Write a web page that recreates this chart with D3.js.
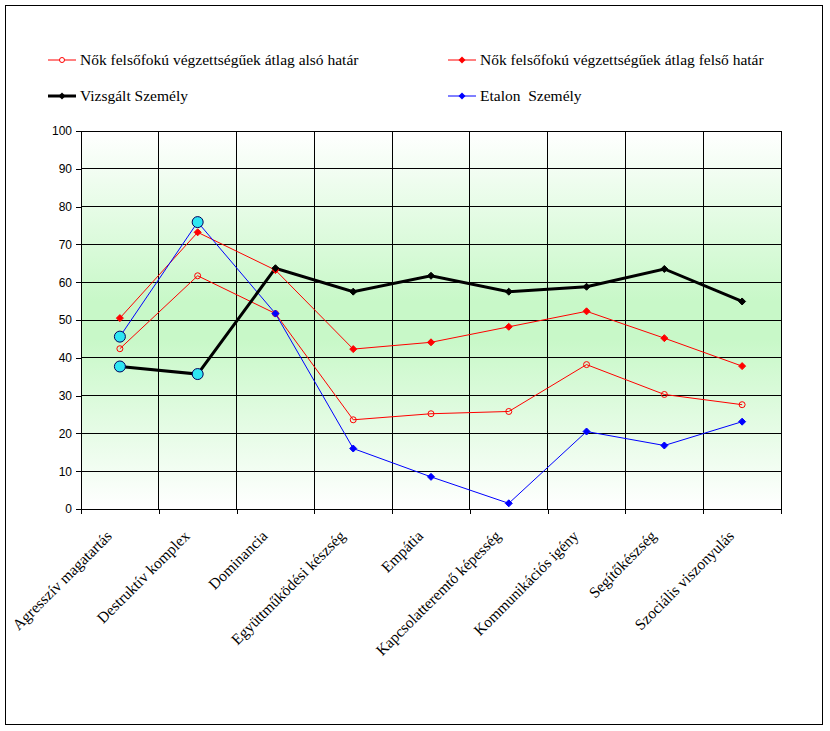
<!DOCTYPE html>
<html><head><meta charset="utf-8">
<script src="https://cdn.jsdelivr.net/npm/d3@7"></script>
<style>body{margin:0;background:#fff}.serif{font-family:"Liberation Serif","Times New Roman",serif}</style>
</head><body>
<svg id="c" width="830" height="731"></svg>
<script>
const categories = ["Agresszív magatartás","Destruktív komplex","Dominancia","Együttműködési készség","Empátia","Kapcsolatteremtő képesség","Kommunikációs igény","Segítőkészség","Szociális viszonyulás"];
const lowerBound = [42.4, 61.7, 51.7, 23.6, 25.2, 25.8, 38.2, 30.3, 27.6];
const upperBound = [50.5, 73.2, 63.2, 42.3, 44.1, 48.2, 52.3, 45.2, 37.8];
const examined = [37.7, 35.7, 63.7, 57.5, 61.7, 57.5, 58.8, 63.5, 54.9];
const etalon = [45.6, 75.9, 51.7, 16.0, 8.5, 1.5, 20.5, 16.8, 23.1];
const highlighted = [0, 1];
const yTicks = [0,10,20,30,40,50,60,70,80,90,100];
const seriesNames = ["Nők felsőfokú végzettségűek átlag alsó határ","Nők felsőfokú végzettségűek átlag felső határ","Vizsgált Személy","Etalon  Személy"];

const svg = d3.select("#c");
const L = 81, R = 781, T = 131, B = 509;
const x = d3.scaleBand().domain(categories).range([L, R]);
const y = d3.scaleLinear().domain([0, 100]).range([B, T]);
const cx = d => x(d) + x.bandwidth() / 2;

// outer frame
svg.append("rect").attr("x", 5.5).attr("y", 5.5).attr("width", 817).attr("height", 719)
  .attr("fill", "#fff").attr("stroke", "#000").attr("stroke-width", 1);

// gradient
const defs = svg.append("defs");
const g = defs.append("linearGradient").attr("id", "bg").attr("x1", 0).attr("y1", 0).attr("x2", 0).attr("y2", 1);
g.append("stop").attr("offset", "0%").attr("stop-color", "#ffffff");
g.append("stop").attr("offset", "45%").attr("stop-color", "#c8f8c8");
g.append("stop").attr("offset", "55%").attr("stop-color", "#c8f8c8");
g.append("stop").attr("offset", "100%").attr("stop-color", "#ffffff");
svg.append("rect").attr("x", L).attr("y", T).attr("width", R - L).attr("height", B - T).attr("fill", "url(#bg)");

// grid
const grid = svg.append("g").attr("stroke", "#000").attr("stroke-width", 1).attr("shape-rendering", "crispEdges");
yTicks.forEach(t => grid.append("line").attr("x1", L).attr("x2", R).attr("y1", y(t)).attr("y2", y(t)));
categories.forEach(c => grid.append("line").attr("x1", x(c)).attr("x2", x(c)).attr("y1", T).attr("y2", B));
grid.append("line").attr("x1", R).attr("x2", R).attr("y1", T).attr("y2", B);

// axes
const yAxis = svg.append("g").attr("transform", `translate(${L},0)`)
  .call(d3.axisLeft(y).tickValues(yTicks).tickSize(5).tickPadding(4));
yAxis.select(".domain").remove();
yAxis.selectAll("line").attr("shape-rendering", "crispEdges");
yAxis.selectAll("text").style("font-family", "'Liberation Sans', Arial, sans-serif").style("font-size", "12px").attr("fill", "#000");

const xAxisScale = d3.scaleLinear().domain([0, categories.length]).range([L, R]);
const xAxis = svg.append("g").attr("transform", `translate(0,${B})`)
  .call(d3.axisBottom(xAxisScale).tickValues(d3.range(categories.length + 1)).tickSize(5).tickFormat(""));
xAxis.select(".domain").remove();
xAxis.selectAll("line").attr("shape-rendering", "crispEdges");

svg.append("g").selectAll("text").data(categories).join("text")
  .attr("class", "serif")
  .attr("transform", d => `translate(${cx(d) - 7},${B + 28}) rotate(-45)`)
  .attr("text-anchor", "end")
  .style("font-size", "15.5px")
  .text(d => d);

// lines
const line = arr => d3.line().x((v, i) => cx(categories[i])).y(v => y(v))(arr);
function diamond(sel, data, r, color) {
  sel.selectAll(null).data(data).join("path")
    .attr("d", (v, i) => { const px = cx(categories[i]), py = y(v); return `M${px},${py - r}L${px + r},${py}L${px},${py + r}L${px - r},${py}Z`; })
    .attr("fill", color).attr("stroke", color);
}
const plot = svg.append("g");
plot.append("path").attr("d", line(lowerBound)).attr("fill", "none").attr("stroke", "#ff0000").attr("stroke-width", 1);
plot.append("path").attr("d", line(upperBound)).attr("fill", "none").attr("stroke", "#ff0000").attr("stroke-width", 1);
plot.append("path").attr("d", line(etalon)).attr("fill", "none").attr("stroke", "#0000ff").attr("stroke-width", 1);
plot.append("path").attr("d", line(examined)).attr("fill", "none").attr("stroke", "#000").attr("stroke-width", 3);

plot.append("g").selectAll("circle").data(lowerBound).join("circle")
  .attr("cx", (v, i) => cx(categories[i])).attr("cy", v => y(v)).attr("r", 3)
  .attr("fill", "none").attr("stroke", "#ff0000");
diamond(plot.append("g"), upperBound, 3.5, "#ff0000");
diamond(plot.append("g"), etalon, 3.5, "#0000ff");
diamond(plot.append("g"), examined, 3.5, "#000");

// highlighted points
const hl = plot.append("g");
highlighted.forEach(i => {
  [examined[i], etalon[i]].forEach(v => {
    hl.append("circle").attr("cx", cx(categories[i])).attr("cy", y(v)).attr("r", 5.5)
      .attr("fill", "#2ee6f2").attr("stroke", "#00005a").attr("stroke-width", 1);
  });
});

// legend
const legend = svg.append("g");
const legPos = [[48, 60], [448, 60], [48, 96], [448, 96]];
const legColor = ["#ff0000", "#ff0000", "#000", "#0000ff"];
const legWidth = [1, 1, 3, 1];
seriesNames.forEach((n, i) => {
  const [lx, ly] = legPos[i];
  const gg = legend.append("g");
  gg.append("line").attr("x1", lx).attr("x2", lx + 28).attr("y1", ly).attr("y2", ly)
    .attr("stroke", legColor[i]).attr("stroke-width", legWidth[i]);
  const mx = lx + 14;
  if (i === 0) gg.append("circle").attr("cx", mx).attr("cy", ly).attr("r", 2.5).attr("fill", "#fff").attr("stroke", "#ff0000");
  else gg.append("path").attr("d", `M${mx},${ly - 3.5}L${mx + 3.5},${ly}L${mx},${ly + 3.5}L${mx - 3.5},${ly}Z`).attr("fill", legColor[i]);
  gg.append("text").attr("class", "serif").attr("x", lx + 32).attr("y", ly).attr("dy", "0.35em")
    .style("font-size", "15.5px").style("white-space", "pre").text(n);
});
</script>
</body></html>
